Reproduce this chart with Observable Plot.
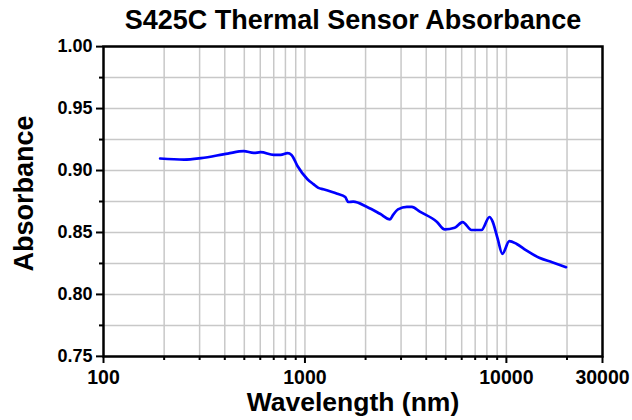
<!DOCTYPE html>
<html>
<head>
<meta charset="utf-8">
<script src="https://cdn.jsdelivr.net/npm/d3@7"></script>
<script src="https://cdn.jsdelivr.net/npm/@observablehq/plot@0.6"></script>
<style>
  body { margin: 0; background: #fff; }
  svg text { font-family: "Liberation Sans", Arial, sans-serif; font-weight: bold; }
</style>
</head>
<body>
<div id="chart"></div>
<script>
const title = "S425C Thermal Sensor Absorbance";
const xLabel = "Wavelength (nm)";
const yLabel = "Absorbance";

const wavelength = [191, 251, 305, 414, 497, 557, 603, 699, 757, 820, 858, 918, 1029, 1102, 1166, 1234, 1447, 1585, 1640, 1736, 2035, 2359, 2644, 2735, 2895, 3208, 3396, 3719, 4511, 4941, 5537, 6063, 6718, 7524, 8244, 8527, 9029, 9550, 10347, 11205, 12557, 14555, 16870, 19785];
const absorbance = [0.9097, 0.9088, 0.9100, 0.9137, 0.9156, 0.9142, 0.9148, 0.9126, 0.9126, 0.9140, 0.9126, 0.9037, 0.8930, 0.8890, 0.8860, 0.8849, 0.8813, 0.8786, 0.8746, 0.8749, 0.8706, 0.8651, 0.8606, 0.8640, 0.8686, 0.8706, 0.8706, 0.8668, 0.8587, 0.8525, 0.8538, 0.8584, 0.8520, 0.8520, 0.8625, 0.8592, 0.8457, 0.8328, 0.8430, 0.8409, 0.8355, 0.8296, 0.8260, 0.8220];

const xMajorTicks = [100, 1000, 10000, 30000];
const xMinorTicks = [200, 300, 400, 500, 600, 700, 800, 900, 2000, 3000, 4000, 5000, 6000, 7000, 8000, 9000, 20000];
const yMajorTicks = [0.75, 0.80, 0.85, 0.90, 0.95, 1.00];
const yMinorTicks = [0.775, 0.825, 0.875, 0.925, 0.975];

const data = wavelength.map((w, i) => ({w, a: absorbance[i]}));

const chart = Plot.plot({
  width: 632,
  height: 420,
  marginTop: 46,
  marginBottom: 64,
  marginLeft: 103,
  marginRight: 30,
  x: {type: "log", domain: [99.99, 30003]},
  y: {domain: [0.7499, 1.0001]},
  marks: [
    Plot.gridX([...xMinorTicks, 1000, 10000], {stroke: "#c8c8c8", strokeOpacity: 1, strokeWidth: 1.5}),
    Plot.gridY([...yMinorTicks, ...yMajorTicks], {stroke: "#c8c8c8", strokeOpacity: 1, strokeWidth: 1.5}),
    Plot.line(data, {x: "w", y: "a", stroke: "#0000ff", strokeWidth: 2.7, curve: "monotone-x"}),
    Plot.frame({stroke: "black", strokeWidth: 2.5}),
    Plot.axisX(xMajorTicks, {tickSize: 7, tickFormat: () => "", strokeWidth: 2, label: null}),
    Plot.text(xMajorTicks, {x: d => d, frameAnchor: "bottom", lineAnchor: "top", textAnchor: "middle", dy: 14, text: d => String(d), fontSize: 19.5, fontWeight: "bold", fill: "black"}),
    Plot.axisX(xMinorTicks, {tickSize: 4, tickFormat: () => "", strokeWidth: 2, label: null}),
    Plot.axisY(yMajorTicks, {tickSize: 7, tickPadding: 4, tickFormat: d => d.toFixed(2), fontSize: 18, strokeWidth: 2, label: null}),
    Plot.axisY(yMinorTicks, {tickSize: 4, tickFormat: () => "", strokeWidth: 2, label: null}),
    Plot.text([title], {frameAnchor: "top", lineAnchor: "middle", textAnchor: "middle", dy: -26, fontSize: 27, fontWeight: "bold", fill: "black"}),
    Plot.text([xLabel], {frameAnchor: "bottom", lineAnchor: "middle", textAnchor: "middle", dy: 46, fontSize: 26.5, fontWeight: "bold", fill: "black"}),
    Plot.text([yLabel], {frameAnchor: "left", lineAnchor: "middle", textAnchor: "middle", dx: -79, dy: -8, rotate: -90, fontSize: 27, fontWeight: "bold", fill: "black"})
  ]
});
document.getElementById("chart").appendChild(chart);
</script>
</body>
</html>
